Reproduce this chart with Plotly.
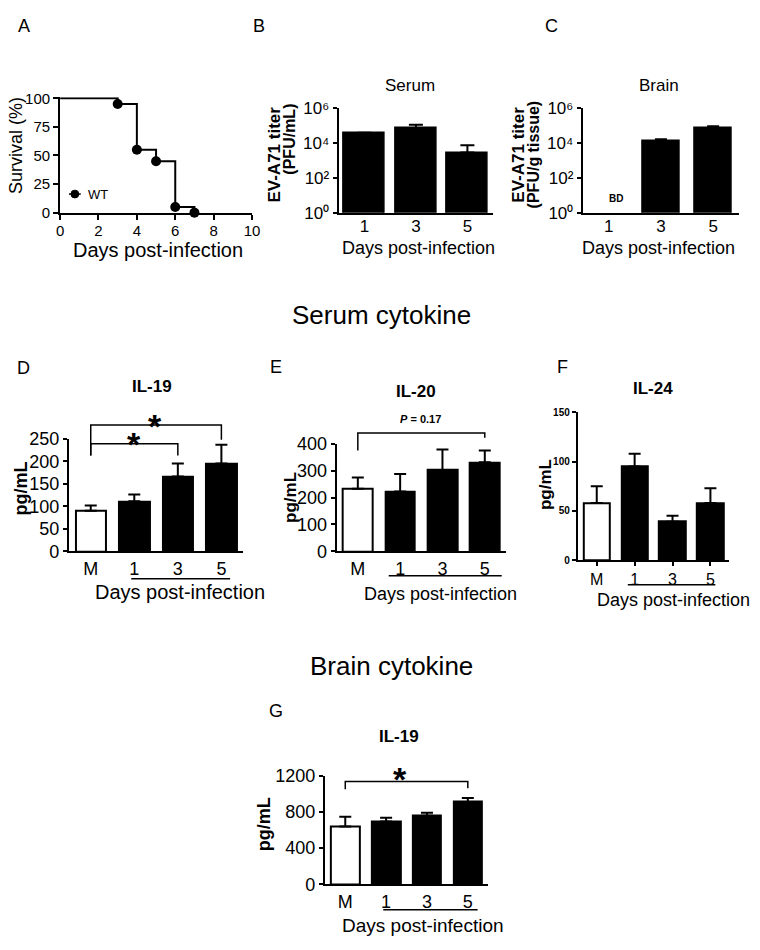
import plotly.graph_objects as go

W, H = 760, 950
FONT = "Liberation Sans, Arial, sans-serif"

# ---------------- data ----------------
surv_days = [0, 3, 4, 5, 6, 7]
surv_pct = [100, 95, 55, 45, 5, 0]

titer_days = ["1", "3", "5"]
serum_titer = [3.6e4, 7.0e4, 2.8e3]
serum_titer_err = [2.0e3, 3.7e4, 4.4e3]
brain_titer = [None, 1.25e4, 7.6e4]
brain_titer_err = [0, 3.5e3, 1.4e4]
titer_tick_vals = [1, 1e2, 1e4, 1e6]
titer_tick_text = ["10\u2070", "10\u00b2", "10\u2074", "10\u2076"]

groups = ["M", "1", "3", "5"]
group_colors = ["white", "black", "black", "black"]
serum_il19 = [90, 111, 166, 195]
serum_il19_err = [12, 15, 29, 42]
serum_il20 = [233, 222, 302, 331]
serum_il20_err = [41, 65, 76, 44]
serum_il24 = [58, 95, 39, 58]
serum_il24_err = [17, 13, 6, 15]
brain_il19 = [638, 692, 757, 908]
brain_il19_err = [108, 43, 32, 43]

# ---------------- layout boxes (pixels: x0, x1, ytop, ybottom) ----------------
BOX = {
    1: (57, 252, 89, 207),    # A
    2: (340, 497, 100, 207),  # B
    3: (588, 747, 100, 207),  # C
    4: (66, 243, 438, 553),   # D
    5: (338, 510, 443, 553),  # E
    6: (583, 737, 411, 562),  # F
    7: (326, 492, 782, 893),  # G
}


def px(x):
    return x / W


def py(y):
    return 1 - y / H


fig = go.Figure()


def err_bar(err, width=6):
    return dict(type="data", array=err, arrayminus=[0] * len(err), symmetric=False,
                color="black", thickness=2, width=width)


# A: survival
fig.add_trace(go.Scatter(x=surv_days, y=surv_pct, mode="lines", line=dict(shape="hv", color="black", width=2),
                         xaxis="x", yaxis="y", showlegend=False, cliponaxis=False))
fig.add_trace(go.Scatter(x=surv_days[1:], y=surv_pct[1:], mode="markers", marker=dict(color="black", size=10),
                         xaxis="x", yaxis="y", showlegend=False, cliponaxis=False, name="WT"))

# B: serum titer
fig.add_trace(go.Bar(x=list(range(len(titer_days))), y=serum_titer, width=0.8,
                     marker=dict(color="black", line=dict(color="black", width=1.5)),
                     error_y=err_bar(serum_titer_err, 7), xaxis="x2", yaxis="y2", showlegend=False))
# C: brain titer
fig.add_trace(go.Bar(x=list(range(len(titer_days))), y=brain_titer, width=0.7,
                     marker=dict(color="black", line=dict(color="black", width=1.5)),
                     error_y=err_bar(brain_titer_err, 6), xaxis="x3", yaxis="y3", showlegend=False))

cyt = [(4, serum_il19, serum_il19_err), (5, serum_il20, serum_il20_err),
       (6, serum_il24, serum_il24_err), (7, brain_il19, brain_il19_err)]
for n, vals, errs in cyt:
    fig.add_trace(go.Bar(x=list(range(len(groups))), y=vals, width=0.7,
                         marker=dict(color=group_colors, line=dict(color="black", width=2)),
                         error_y=err_bar(errs, 6), xaxis=f"x{n}", yaxis=f"y{n}", showlegend=False))

# ---------------- axes ----------------
base = dict(showline=True, linecolor="black", linewidth=2, showgrid=False, zeroline=False,
            tickcolor="black", tickwidth=2, ticklen=5, fixedrange=True)


def tf(size, bold=False):
    return dict(family=FONT, size=size, color="black", weight="bold" if bold else "normal")


layout_axes = {}
for n, (x0, x1, yt, yb) in BOX.items():
    xa = dict(base, domain=[px(x0), px(x1)], anchor=f"y{n}")
    ya = dict(base, domain=[py(yb), py(yt)], anchor=f"x{n}")
    layout_axes[n] = (xa, ya)

# A
xa, ya = layout_axes[1]
xa.update(range=[0, 10], tickvals=[0, 2, 4, 6, 8, 10], ticks="outside", tickfont=tf(15),
          ticklabelstandoff=-2)
ya.update(range=[0, 101], tickvals=[0, 25, 50, 75, 100], ticks="outside", tickfont=tf(15))

for n in (2, 3):
    xa, ya = layout_axes[n]
    xa.update(range=[-0.5, 2.5], tickvals=list(range(len(titer_days))), ticktext=titer_days, ticks="",
              tickfont=tf(17), ticklabelstandoff=-3)
    ya.update(type="log", range=[0, 6], tickvals=titer_tick_vals, ticktext=titer_tick_text, ticks="outside",
              ticklen=4, tickfont=tf(17))

cyt_y = {4: ([0, 250], [0, 50, 100, 150, 200, 250], 18, False),
         5: ([0, 400], [0, 100, 200, 300, 400], 18, False),
         6: ([0, 150], [0, 50, 100, 150], 10, True),
         7: ([0, 1200], [0, 400, 800, 1200], 18, False)}
for n, (rng, tv, fs, bold) in cyt_y.items():
    xa, ya = layout_axes[n]
    xa.update(range=[-0.5, 3.5], tickvals=list(range(len(groups))), ticktext=groups,
              ticks="outside" if n == 6 else "", ticklen=4, tickfont=tf(16 if n == 6 else 18))
    ya.update(range=rng, tickvals=tv, ticks="outside", ticklen=4, tickfont=tf(fs, bold))

lay = {}
for n, (xa, ya) in layout_axes.items():
    key = "" if n == 1 else str(n)
    lay[f"xaxis{key}"] = xa
    lay[f"yaxis{key}"] = ya

# ---------------- annotations ----------------
ann = []


def txt(text, x, y, size, bold=False, angle=0, xanchor="center", yanchor="middle"):
    ann.append(dict(text=text, x=px(x), y=py(y), xref="paper", yref="paper", showarrow=False,
                    font=tf(size, bold), textangle=angle, xanchor=xanchor, yanchor=yanchor))


# panel letters
for L, x, y in [("A", 20, 16), ("B", 259, 16), ("C", 556, 16), ("D", 20, 366), ("E", 276, 365),
                ("F", 567, 365), ("G", 276, 716)]:
    txt(L, x, y, 18)

# section titles
txt("Serum cytokine", 384, 312, 26)
txt("Brain cytokine", 394, 670, 26)

# A labels
txt("Survival (%)", 12, 138, 18, angle=-90)
txt("Days post-infection", 156, 245, 20)
txt("WT", 83, 188, 13, xanchor="left")

# B / C labels
txt("Serum", 413, 77, 17)
txt("Brain", 665, 77, 17)
txt("EV-A71 titer", 275, 148, 17, bold=True, angle=-90)
txt("(PFU/mL)", 290, 132, 16, bold=True, angle=-90)
txt("EV-A71 titer", 523, 148, 17, bold=True, angle=-90)
txt("(PFU/g tissue)", 538, 148, 16, bold=True, angle=-90)
txt("Days post-infection", 421, 243, 18)
txt("Days post-infection", 665, 243, 18)
txt("BD", 622, 193, 10, bold=True)

# cytokine panels
txt("IL-19", 150, 385, 17, bold=True)
txt("IL-20", 419, 390, 17, bold=True)
txt("IL-24", 659, 387, 17, bold=True)
txt("IL-19", 401, 742, 17, bold=True)
txt("pg/mL", 17, 489, 18, bold=True, angle=-90)
txt("pg/mL", 291, 498, 17, bold=True, angle=-90)
txt("pg/mL", 550, 485, 17, bold=True, angle=-90)
txt("pg/mL", 265, 832, 18, bold=True, angle=-90)
txt("Days post-infection", 179, 595, 20)
txt("Days post-infection", 443, 597, 18)
txt("Days post-infection", 680, 603, 18)
txt("Days post-infection", 426, 935, 19)
txt("<i>P</i> = 0.17", 423, 418, 11, bold=True)

# stars (asterisk glyph sits high in its box; offset down)
txt("*", 153, 425, 34, bold=True)
txt("*", 132, 443, 34, bold=True)
txt("*", 402, 786, 34, bold=True)

# ---------------- shapes ----------------
shapes = []


def bracket(n, i0, i1, y, leg0, leg1):
    path = f"M {i0},{py(leg0)} L {i0},{py(y)} L {i1},{py(y)} L {i1},{py(leg1)}"
    shapes.append(dict(type="path", path=path, xref=f"x{n}", yref="paper",
                       line=dict(color="black", width=1.5)))


def underline(n, a, b, y):
    shapes.append(dict(type="line", x0=a, x1=b, y0=py(y), y1=py(y), xref=f"x{n}", yref="paper",
                       line=dict(color="black", width=1.5)))


bracket(4, 0, 3, 424, 455, 439)
bracket(4, 0, 2, 443, 455, 455)
bracket(5, 0, 3, 432, 450, 437)
bracket(7, 0, 3, 788, 796, 795)
underline(4, 0.93, 3.2, 581)
underline(5, 0.73, 3.4, 578)
underline(6, 0.82, 3.13, 587)
underline(7, 0.93, 3.24, 919)

# legend symbol for WT (A)
shapes.append(dict(type="line", x0=px(66), x1=px(78), y0=py(188), y1=py(188), xref="paper", yref="paper",
                   line=dict(color="black", width=1.5)))
shapes.append(dict(type="circle", x0=px(68), x1=px(76), y0=py(192), y1=py(184), xref="paper", yref="paper",
                   fillcolor="black", line=dict(color="black", width=1)))

fig.update_layout(width=W, height=H, margin=dict(l=0, r=0, t=0, b=0), paper_bgcolor="white",
                  plot_bgcolor="white", font=dict(family=FONT, color="black"), bargap=0,
                  annotations=ann, shapes=shapes, showlegend=False, **lay)

fig.write_html("out.html")
